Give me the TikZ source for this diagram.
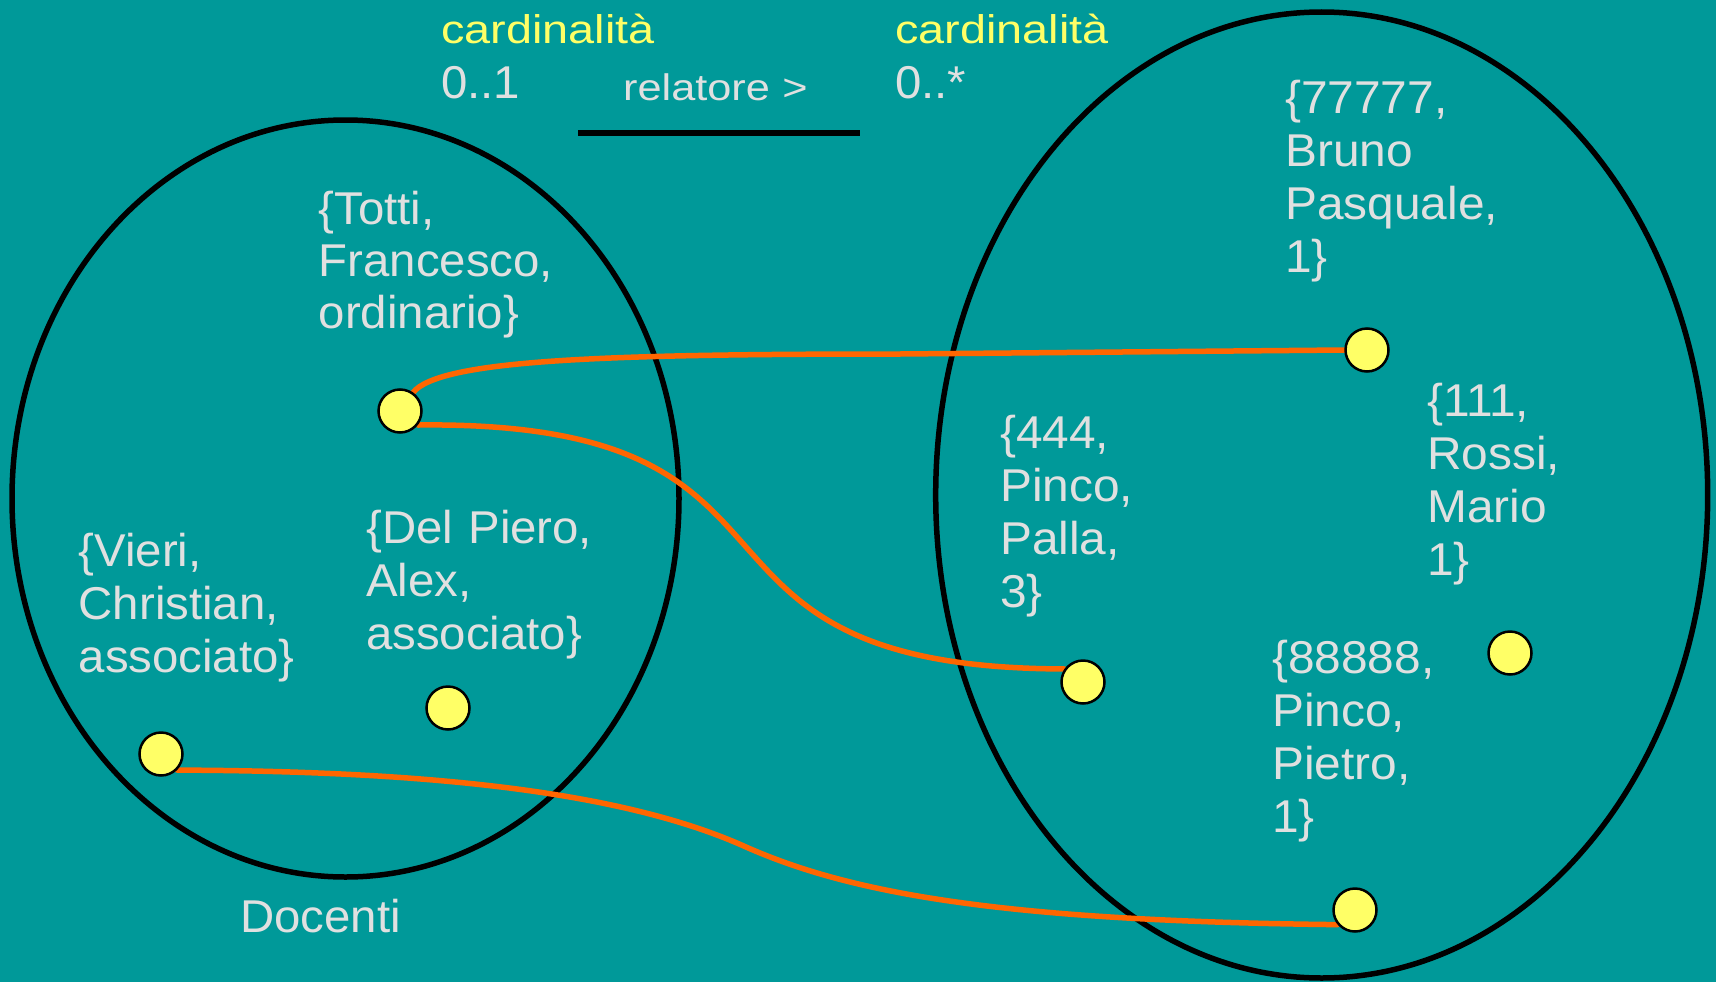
\documentclass[tikz,border=0pt]{standalone}
\usepackage{fontspec}
\setmainfont{Liberation Sans}
\newfontfamily\fN[FakeStretch=1.03]{Liberation Sans}
\newfontfamily\fW[FakeStretch=1.17]{Liberation Sans}
\newfontfamily\fR[FakeStretch=1.04]{Liberation Sans}
\usetikzlibrary{shapes.geometric}
\definecolor{teal0}{RGB}{0,153,153}
\definecolor{txtgray}{RGB}{224,224,224}
\definecolor{yel}{RGB}{255,255,102}
\definecolor{orng}{RGB}{255,102,0}
\pgfdeclarelayer{bg}
\pgfdeclarelayer{sets}
\pgfdeclarelayer{wires}
\pgfsetlayers{bg,sets,wires,main}
\begin{document}
\begin{tikzpicture}[x=1pt,y=-1pt,
  lbl/.style={anchor=base west, inner sep=0pt, text width=400pt, align=left, text=txtgray},
  big/.style={lbl, font=\fN\fontsize{46}{53}\selectfont},
  bigr/.style={lbl, font=\fR\fontsize{46}{53}\selectfont},
  card/.style={lbl, text=yel, font=\fW\fontsize{40}{46}\selectfont},
  mult/.style={lbl, font=\fN\fontsize{46}{53}\selectfont},
  dot/.style={circle, fill=yel, draw=black, line width=2.5pt, minimum size=43pt, inner sep=0pt},
  setshape/.style={ellipse, draw=black, line width=5.5pt, inner sep=0pt},
  wire/.style={draw=orng, line width=5.5pt, line cap=round}]
\begin{pgfonlayer}{bg}
  \fill[teal0] (0,0) rectangle (1716,982);
\end{pgfonlayer}
\useasboundingbox (0,0) rectangle (1716,982);

% sets
\begin{pgfonlayer}{sets}
\node[setshape, minimum width=667pt, minimum height=757pt] (docenti) at (345.5,498.5) {};
\node[setshape, minimum width=772pt, minimum height=966pt] (studenti) at (1321.7,495) {};
\end{pgfonlayer}

% header
\node[card] (card1) at (441,44) {cardinalità};
\node[card] (card2) at (895,44) {cardinalità};
\node[mult] (m1) at (441,99) {0..1};
\node[mult] (m2) at (895,99) {0..*};
\node[lbl, font=\fW\fontsize{37}{42}\selectfont] (rel) at (623,100) {relatore >};
\coordinate (ul1) at (578,132.7);
\coordinate (ul2) at (860,132.7);
\draw[line width=6pt] (ul1) -- (ul2);

% left texts
\node[lbl, font=\fN\fontsize{46}{52}\selectfont] (tTotti) at (318.5,224) {\{Totti,\\Francesco,\\ordinario\}};
\node[big] (tVieri) at (78.5,566) {\{Vieri,\\Christian,\\associato\}};
\node[big] (tDel) at (366,543) {\{Del Piero,\\Alex,\\associato\}};
\node[big] (tDoc) at (240,932) {Docenti};

% right texts
\node[bigr] (t777) at (1285,113) {\{77777,\\Bruno\\Pasquale,\\1\}};
\node[bigr] (t444) at (1000,448) {\{444,\\Pinco,\\Palla,\\3\}};
\node[bigr] (t111) at (1427,416) {\{111,\\Rossi,\\Mario\\1\}};
\node[bigr] (t888) at (1272,673) {\{88888,\\Pinco,\\Pietro,\\1\}};

% dots
\node[dot] (dTotti) at (400,411) {};
\node[dot] (dVieri) at (161,754) {};
\node[dot] (dDel) at (448,708) {};
\node[dot] (d777) at (1367,350) {};
\node[dot] (d444) at (1083,682) {};
\node[dot] (d111) at (1510,653) {};
\node[dot] (d888) at (1355,910) {};

% links
\begin{pgfonlayer}{wires}
  \draw[wire] (dTotti.55) .. controls (440,360) and (600,354) .. (900,354) -- (d777.west);
  \draw[wire] (dTotti.-38) .. controls (850,420) and (640,668) .. (d444.145);
  \draw[wire] (dVieri.-45) .. controls (420,771) and (620,790) .. (746,847)
                           .. controls (850,893) and (1000,921) .. (d888.220);
\end{pgfonlayer}
\end{tikzpicture}
\end{document}
